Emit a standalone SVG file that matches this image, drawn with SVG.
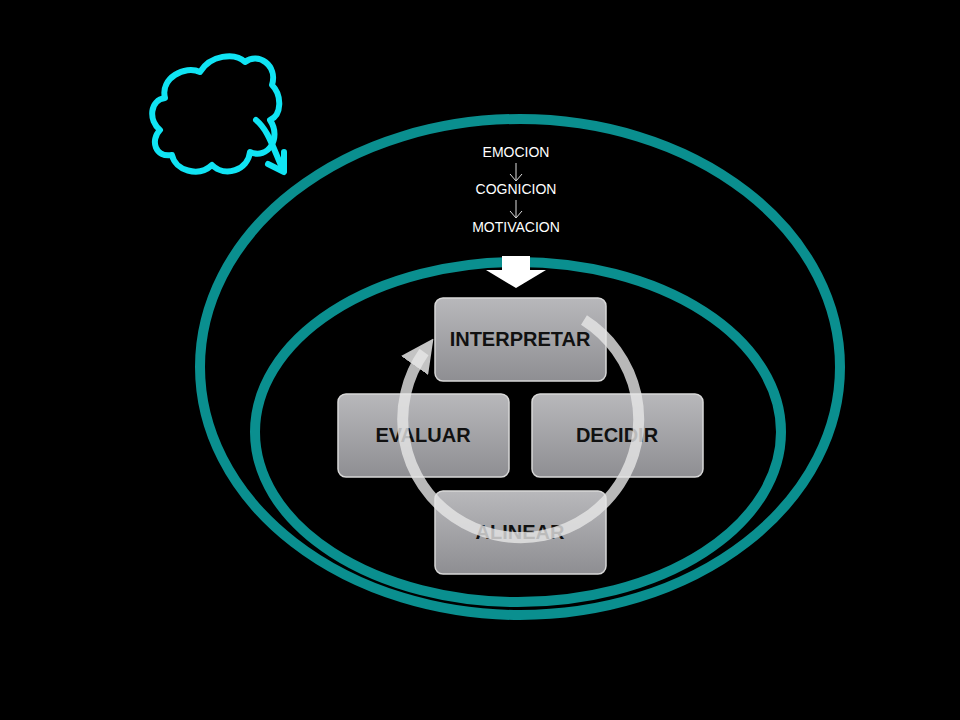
<svg xmlns="http://www.w3.org/2000/svg" width="960" height="720" viewBox="0 0 960 720">
<defs>
<linearGradient id="g" x1="0" y1="0" x2="0" y2="1"><stop offset="0" stop-color="#b8b8bb"/><stop offset="1" stop-color="#8e8e92"/></linearGradient>
<marker id="ah" viewBox="0 0 10 10" refX="5" refY="5" markerWidth="3" markerHeight="3" orient="auto"><path d="M0,0 L10,5 L0,10 z" fill="#e6e6e6" fill-opacity="0.85"/></marker>
</defs>
<style>
.box{fill:url(#g);stroke:#d8d8d8;stroke-width:1.5}
.lbl{font-family:"Liberation Sans",Arial,sans-serif;font-weight:bold;font-size:20px;fill:#111;text-anchor:middle}
.sm{font-family:"Liberation Sans",Arial,sans-serif;font-size:14px;fill:#fff;text-anchor:middle}
.ring{fill:none;stroke:#0a8f8f;stroke-width:10}
</style>
<rect width="960" height="720" fill="#000"/>
<g id="rings">
<ellipse class="ring" cx="520" cy="367" rx="320" ry="248"/>
<ellipse class="ring" cx="518" cy="432" rx="263" ry="170"/>
</g>
<g id="cloud" fill="none" stroke="#10e4f4" stroke-width="6" stroke-linejoin="round" stroke-linecap="round">
<path d="M200,72 C210,55 235,52 245,62 C258,52 278,65 272,85 C282,95 282,115 270,120 C282,138 268,160 250,152 C248,170 225,178 212,165 C198,178 175,170 172,155 C155,158 150,140 160,130 C148,120 150,100 165,98 C160,78 185,65 200,72 Z"/>
<path d="M256,120 C268,130 272,145 283,170"/>
<path d="M268,164 L284,172 L284,152"/>
</g>
<g id="chain">
<text class="sm" x="516" y="157">EMOCION</text>
<path d="M516,163 V180 M510,174 L516,181 L522,174" stroke="#ddd" stroke-width="1" fill="none"/>
<text class="sm" x="516" y="194">COGNICION</text>
<path d="M516,200 V217 M510,211 L516,218 L522,211" stroke="#ddd" stroke-width="1" fill="none"/>
<text class="sm" x="516" y="232">MOTIVACION</text>
</g>
<g id="bigarrow"><path d="M502,256 H530 V270 H546 L516,288 L486,270 H502 Z" fill="#fff"/></g>
<g id="interpretar"><rect class="box" x="435" y="298" width="171" height="83" rx="8"/><text class="lbl" x="520" y="346">INTERPRETAR</text></g>
<g id="evaluar"><rect class="box" x="338" y="394" width="171" height="83" rx="8"/><text class="lbl" x="423" y="442">EVALUAR</text></g>
<g id="decidir"><rect class="box" x="532" y="394" width="171" height="83" rx="8"/><text class="lbl" x="617" y="442">DECIDIR</text></g>
<g id="alinear"><rect class="box" x="435" y="491" width="171" height="83" rx="8"/><text class="lbl" x="520" y="539">ALINEAR</text></g>
<g id="connectors">
<path d="M584,320 A118,118 0 1 1 424,352" fill="none" stroke="#e6e6e6" stroke-opacity="0.8" stroke-width="11" marker-end="url(#ah)"/>
</g>
</svg>
